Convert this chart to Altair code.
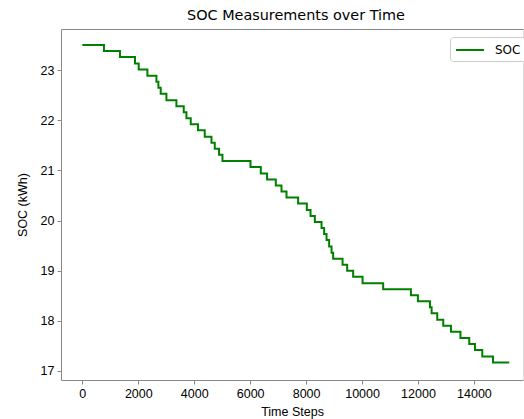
import altair as alt
import pandas as pd

# Step change points (time step at which each level starts)
time_steps = [0, 773, 1345, 1882, 2014, 2326, 2648, 2719, 2802, 3006,
              3363, 3625, 3721, 3875, 4136, 4376, 4616, 4734, 4888, 5009,
              6011, 6380, 6605, 6916, 7120, 7299, 7714, 8025, 8158, 8312,
              8551, 8644, 8730, 8823, 8909, 8967, 9303, 9468, 9682, 10018,
              10755, 11747, 11997, 12427, 12487, 12688, 12903, 13178, 13518, 13833,
              14037, 14298, 14681, 15264]
soc_values = [23.50, 23.38, 23.26, 23.13, 23.01, 22.89, 22.77, 22.65, 22.53, 22.40,
              22.28, 22.16, 22.04, 21.92, 21.80, 21.67, 21.55, 21.43, 21.31, 21.19,
              21.07, 20.94, 20.82, 20.70, 20.58, 20.46, 20.34, 20.21, 20.09, 19.97,
              19.85, 19.73, 19.61, 19.48, 19.36, 19.24, 19.12, 19.00, 18.88, 18.75,
              18.63, 18.51, 18.39, 18.27, 18.15, 18.02, 17.90, 17.78, 17.66, 17.54,
              17.42, 17.29, 17.17, 17.17]
series_name = "SOC"
x_ticks = [0, 2000, 4000, 6000, 8000, 10000, 12000, 14000]
y_ticks = [17, 18, 19, 20, 21, 22, 23]

df = pd.DataFrame({"t": time_steps, "soc": soc_values, "series": [series_name] * len(time_steps)})

FONT = "DejaVu Sans"
FS = 12.5

x_scale = alt.Scale(domain=[-763, 15754], nice=False, zero=False)
y_scale = alt.Scale(domain=[16.82, 23.82], nice=False, zero=False)

y_enc = alt.Y("soc:Q", scale=y_scale,
              axis=alt.Axis(values=y_ticks, format="d", title="SOC (kWh)", grid=False,
                            tickSize=4, labelPadding=3, titlePadding=11,
                            titleFontWeight="normal", titleFontSize=FS, labelFontSize=FS))

line = alt.Chart(df).mark_line(interpolate="step-after", strokeWidth=2, clip=True).encode(
    x=alt.X("t:Q", scale=x_scale,
            axis=alt.Axis(values=x_ticks, format="d", title="Time Steps", grid=False,
                          tickSize=4, labelPadding=3, titlePadding=6,
                          titleFontWeight="normal", titleFontSize=FS, labelFontSize=FS)),
    y=y_enc,
    color=alt.Color("series:N", scale=alt.Scale(domain=[series_name], range=["#008000"]),
                    legend=alt.Legend(title=None, orient="none", legendX=389, legendY=8,
                                      symbolType="M-1,0L3,0", symbolSize=196,
                                      symbolStrokeWidth=2,
                                      labelOffset=24, labelFontSize=12, labelFont=FONT,
                                      labelColor="black", strokeColor="#cccccc",
                                      fillColor="white", cornerRadius=3, padding=5)),
)

top_spine = alt.Chart(df).mark_line(opacity=0).encode(
    x=alt.X("t:Q", scale=x_scale,
            axis=alt.Axis(orient="top", labels=False, ticks=False, title=None, grid=False,
                          domain=True)),
    y=y_enc,
)

chart = alt.layer(line, top_spine).resolve_axis(x="independent").properties(
    width=462,
    height=351,
    title=alt.TitleParams("SOC Measurements over Time", fontSize=14.4, font=FONT,
                          fontWeight="normal", color="black", offset=6, dx=4),
    autosize=alt.AutoSizeParams(type="none"),
    padding={"left": 61, "top": 29, "right": 1, "bottom": 39},
).configure_view(strokeWidth=0).configure_axis(
    domainColor="black", tickColor="black", labelColor="black", titleColor="black",
    labelFont=FONT, titleFont=FONT, labelFontSize=FS, titleFontSize=FS,
    titleFontWeight="normal", domainWidth=1, tickWidth=1,
).configure(background="white")

chart.save("out.html", embed_options={"renderer": "svg", "actions": False})
